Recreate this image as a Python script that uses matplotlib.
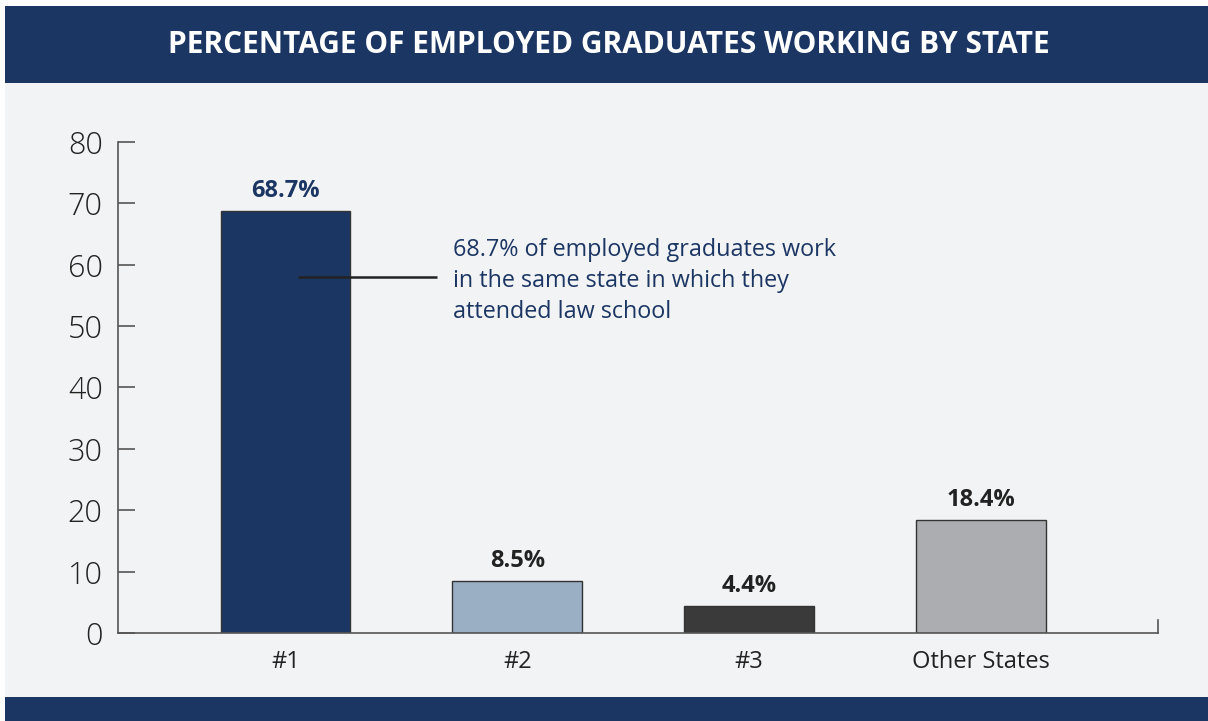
import matplotlib
matplotlib.use("Agg")
import matplotlib.pyplot as plt
from matplotlib.patches import Rectangle

categories = ["#1", "#2", "#3", "Other States"]
values = [68.7, 8.5, 4.4, 18.4]
value_labels = ["68.7%", "8.5%", "4.4%", "18.4%"]
yticks = [0, 10, 20, 30, 40, 50, 60, 70, 80]
title = "PERCENTAGE OF EMPLOYED GRADUATES WORKING BY STATE"
note = "68.7% of employed graduates work\nin the same state in which they\nattended law school"

NAVY = "#1c3664"
bar_colors = [NAVY, "#9aaec4", "#3a3a3a", "#acadb0"]
label_colors = [NAVY, "#222222", "#222222", "#222222"]

plt.rcParams['font.family'] = ['Open Sans', 'DejaVu Sans']

W, H = 1208, 721
fig = plt.figure(figsize=(W / 100, H / 100), dpi=100)
fig.patch.set_facecolor("white")

def px_rect(x0, y0, x1, y1, color, z=-10):
    fig.patches.append(Rectangle((x0 / W, 1 - y1 / H), (x1 - x0) / W, (y1 - y0) / H,
                                 transform=fig.transFigure, facecolor=color,
                                 edgecolor="none", zorder=z))

px_rect(5, 83, W, 697, "#f2f3f4")
px_rect(5, 6, W, 83, NAVY)
px_rect(5, 697, W, H, NAVY)
fig.text(609 / W, 1 - 45 / H, title, color="white", fontsize=21.5, fontweight="bold",
         ha="center", va="center")

ax = fig.add_axes([118 / W, (H - 633) / H, 1040 / W, 491 / H])
ax.set_zorder(5)
ax.set_facecolor("none")
x = list(range(len(categories)))
bars = ax.bar(x, values, width=0.56, color=bar_colors, edgecolor="#333333", linewidth=1.0)
ax.set_xlim(-0.7226, 3.764)
ax.set_ylim(0, 80)
ax.set_yticks(yticks)
ax.set_xticks(x)
ax.set_xticklabels(categories)

ax.spines["top"].set_visible(False)
for s in ["left", "bottom", "right"]:
    ax.spines[s].set_color("#555555")
    ax.spines[s].set_linewidth(1.2)
ax.spines["right"].set_bounds(0, 2.1)
ax.tick_params(axis="y", direction="in", length=12, width=1.2, color="#555555",
               labelsize=22, labelcolor="#222222", pad=11)
for t in ax.get_yticklabels():
    t.set_fontweight("light")
ax.tick_params(axis="x", length=0, labelsize=17, labelcolor="#222222", pad=12)

for b, lab, c in zip(bars, value_labels, label_colors):
    ax.annotate(lab, (b.get_x() + b.get_width() / 2, b.get_height()),
                xytext=(0, 10), textcoords="offset points", ha="center", va="baseline",
                fontsize=17, fontweight="bold", color=c)

ax.plot([0.054, 0.653], [58, 58], color="#222222", lw=1.8, solid_capstyle="butt")
ax.text(0.7226, 57.4, note, color=NAVY, fontsize=16.8, ha="left", va="center",
        linespacing=1.38)

fig.savefig("out.png", dpi=100, facecolor=fig.get_facecolor())
